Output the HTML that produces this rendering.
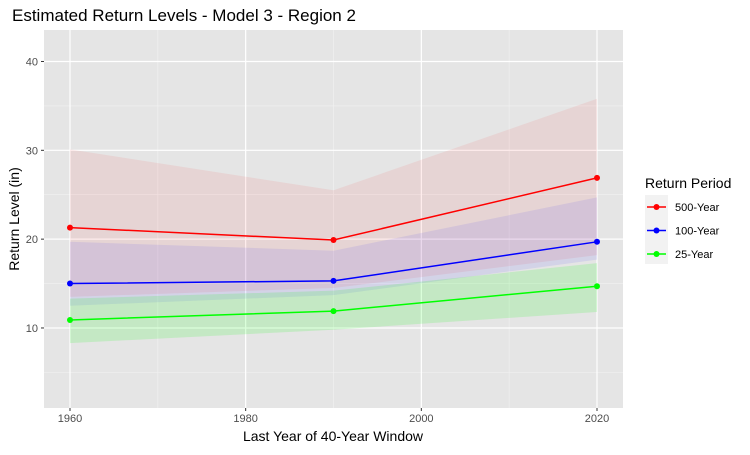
<!DOCTYPE html>
<html><head><meta charset="utf-8"><style>
body{margin:0;background:#fff;font-family:"Liberation Sans",sans-serif}
svg text{font-family:"Liberation Sans",sans-serif}
</style></head><body>
<svg id="c" width="750" height="450">
<rect width="750" height="450" fill="#fff"/>
<text x="12" y="21" font-size="17" fill="#000">Estimated Return Levels - Model 3 - Region 2</text>
<g id="plot"></g>
<text x="333" y="441" font-size="14" text-anchor="middle">Last Year of 40-Year Window</text>
<text transform="translate(19,219) rotate(-90)" font-size="14" text-anchor="middle">Return Level (in)</text>
<g id="legend">
<text x="645" y="188" font-size="14">Return Period</text>
<rect x="645" y="195" width="23" height="69" fill="#f2f2f2"/>
</g>
</svg>
<script>
const years=[1960,1990,2020];
const seriesNames=["500-Year","100-Year","25-Year"];
const val500=[21.3,19.9,26.9];
const val100=[15.0,15.3,19.7];
const val25=[10.9,11.9,14.7];
const up500=[30.1,25.5,35.8];
const lo500=[13.5,14.5,18.2];
const up100=[19.7,18.7,24.7];
const lo100=[12.5,13.7,17.7];
const up25=[13.3,14.2,17.3];
const lo25=[8.3,9.8,11.8];
const yTicks=[10,20,30,40];
const xTicks=[1960,1980,2000,2020];

const L=44,R=623,T=30,B=408;
const xs=v=>70+(v-1960)*(597-70)/60;
const ys=v=>416.8-v*8.883;
const NS="http://www.w3.org/2000/svg";
const g=document.getElementById('plot');
function mk(t,a,p){const e=document.createElementNS(NS,t);for(const k in a)e.setAttribute(k,a[k]);(p||g).appendChild(e);return e;}
const bg=mk('rect',{x:L,y:T,width:R-L,height:B-T,fill:'#e5e5e5'});


for(const v of [5,15,25,35]){const e=mk('line',{x1:L,x2:R,y1:ys(v),y2:ys(v),stroke:'#f2f2f2','stroke-width':0.6});

}
for(const v of [1970,1990,2010]){const e=mk('line',{y1:T,y2:B,x1:xs(v),x2:xs(v),stroke:'#f2f2f2','stroke-width':0.6});

}
for(const v of yTicks){const e=mk('line',{x1:L,x2:R,y1:ys(v),y2:ys(v),stroke:'#fff','stroke-width':1.2});


mk('line',{x1:L-3,x2:L,y1:ys(v),y2:ys(v),stroke:'#333'});
const t=mk('text',{x:L-6,y:ys(v)+4,'font-size':11,'text-anchor':'end',fill:'#4d4d4d'});t.textContent=v;

}
for(const v of xTicks){const e=mk('line',{y1:T,y2:B,x1:xs(v),x2:xs(v),stroke:'#fff','stroke-width':1.2});


mk('line',{y1:B,y2:B+3,x1:xs(v),x2:xs(v),stroke:'#333'});
const t=mk('text',{x:xs(v),y:B+14,'font-size':11,'text-anchor':'middle',fill:'#4d4d4d'});t.textContent=v;

}
const S=[{n:'500',c:'#ff0000',v:val500,u:up500,l:lo500,o:0.07},{n:'100',c:'#0000ff',v:val100,u:up100,l:lo100,o:0.08},{n:'25',c:'#00ff00',v:val25,u:up25,l:lo25,o:0.14}];
for(const s of S){
 let pts=years.map((y,i)=>xs(y)+','+ys(s.u[i]));
 pts=pts.concat(years.map((y,i)=>xs(y)+','+ys(s.l[i])).reverse());
 const p=mk('polygon',{points:pts.join(' '),fill:s.c,'fill-opacity':s.o});
 
 
}
for(const s of S){
 const l=mk('polyline',{points:years.map((y,i)=>xs(y)+','+ys(s.v[i])).join(' '),fill:'none',stroke:s.c,'stroke-width':1.5});
 
 
 years.forEach((y,i)=>{const c=mk('circle',{cx:xs(y),cy:ys(s.v[i]),r:3,fill:s.c});
 
 });
}
const lg=document.getElementById('legend');
S.forEach((s,i)=>{const y=207+i*23.5;
 mk('line',{x1:647,x2:666,y1:y,y2:y,stroke:s.c,'stroke-width':1.5},lg);
 mk('circle',{cx:656.5,cy:y,r:3,fill:s.c},lg);
 const t=mk('text',{x:675,y:y+4,'font-size':11,fill:'#000'},lg);t.textContent=seriesNames[i];
 
 
});
</script>
</body></html>
